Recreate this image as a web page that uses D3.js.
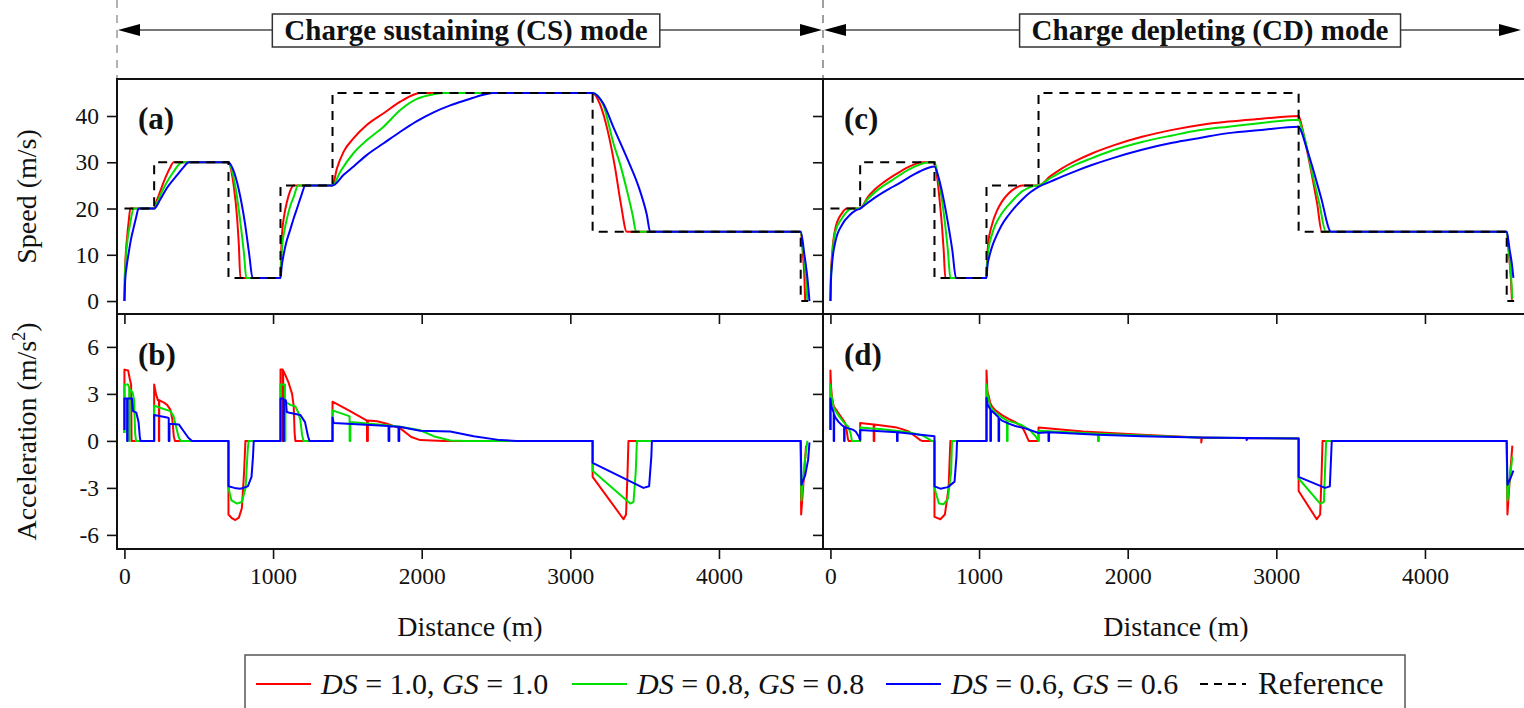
<!DOCTYPE html>
<meta charset="utf-8">
<style>
body { margin: 0; background: #fff; }
text { font-family: "Liberation Serif", "Times New Roman", serif; fill: #111; }
</style>
<svg width="1524" height="708"></svg>
<script src="https://cdnjs.cloudflare.com/ajax/libs/d3/7.8.5/d3.min.js"></script>
<script>

// ---- data (distance m, value) ----
const xTicks = [0, 1000, 2000, 3000, 4000];
const speedTicks = [0, 10, 20, 30, 40];
const accTicks = [-6, -3, 0, 3, 6];
const seriesNames = ["DS = 1.0, GS = 1.0", "DS = 0.8, GS = 0.8", "DS = 0.6, GS = 0.6"];

const refSpeed = [[0,20],[200,20],[200,30],[700,30],[700,5],[1050,5],[1050,25],[1400,25],[1400,45],[3150,45],[3150,15],[4550,15],[4550,0],[4600,0]];

// charge sustaining, speed
const csSpeed10 = [[0,0],[2,4.5],[7,9],[18,13.8],[28,17],[40,20],[200,20],[215,21.5],[242,23.8],[265,25.8],[287,27.5],[310,29],[330,30],[700,30],[720,28],[735,25],[758,18],[770,12],[780,5],[1050,5],[1054,10],[1060,14.3],[1075,18.5],[1094,21.5],[1115,23.8],[1138,25],[1400,25],[1430,28.7],[1475,32.3],[1542,35.2],[1632,38.1],[1744,40.6],[1856,43.1],[1945,44.6],[1990,45],[3150,45],[3200,42.5],[3250,37],[3300,29],[3340,21],[3380,15],[4550,15],[4565,10],[4575,5],[4580,0]];
const csSpeed08 = [[0,0],[3,5],[10,9.5],[22,13.5],[40,17],[62,20],[200,20],[220,21.3],[242,22.9],[287,25.8],[332,28],[360,29.3],[388,30],[700,30],[725,28],[750,24],[780,17],[805,10],[820,5],[1050,5],[1055,8.5],[1060,11.4],[1075,15],[1094,17.9],[1115,20.5],[1139,22.5],[1168,25],[1400,25],[1453,28],[1542,32],[1632,34.8],[1744,37.7],[1856,41.3],[1968,43.7],[2080,44.7],[2150,45],[3150,45],[3220,42.5],[3291,34],[3340,29],[3380,24],[3420,18.5],[3443,15],[4550,15],[4570,10],[4585,5],[4595,0]];
const csSpeed06 = [[0,0],[5,4.5],[15,7.5],[29,10.5],[45,13.5],[63,16],[80,18.3],[95,20],[200,20],[242,22],[287,24.5],[354,27.2],[400,29],[432,30],[700,30],[730,28.5],[770,24],[810,17],[840,10],[862,5],[1050,5],[1058,7.5],[1071,10],[1090,12.8],[1116,15.5],[1140,18],[1161,20],[1190,22.8],[1217,25],[1400,25],[1475,27.3],[1542,29.1],[1632,31.6],[1744,34.1],[1856,36.6],[1968,38.9],[2080,40.8],[2192,42.3],[2305,43.5],[2416,44.6],[2483,45],[3150,45],[3220,42.8],[3291,37.5],[3380,31],[3470,23.7],[3515,18.6],[3537,15],[4550,15],[4575,10],[4595,5],[4609,0]];

// charge depleting, speed
const cdSpeed10 = [[0,0],[3,5.5],[11,10],[33,15.7],[78,19],[112,20],[200,20],[250,22.4],[302,24.2],[360,25.7],[414,26.9],[470,28],[526,29],[570,29.6],[616,30],[700,30],[715,27.5],[728,24],[740,20],[751,16],[762,11],[773,5],[1050,5],[1054,9],[1062,12.5],[1087,16.5],[1120,19.5],[1154,21.5],[1200,23.3],[1244,24.4],[1289,25],[1400,25],[1480,27],[1558,28.7],[1650,30.3],[1759,31.9],[1900,33.6],[2096,35.5],[2300,37],[2477,38],[2678,38.8],[2900,39.4],[3150,40],[3170,38],[3194,34.5],[3239,27.3],[3275,21],[3306,15],[4550,15],[4565,10],[4578,5],[4585,0.3]];
const cdSpeed08 = [[0,0],[3,4.5],[11,9],[33,15],[78,17.9],[110,19.3],[144,20],[200,20],[250,22],[302,23.6],[360,25],[414,26.1],[470,27.3],[526,28.4],[600,29.5],[672,30],[700,30],[720,27.5],[745,23],[770,17],[790,11],[807,5],[1050,5],[1055,8.5],[1065,11.5],[1085,14.2],[1110,16.5],[1150,18.8],[1199,20.8],[1245,22.4],[1289,23.7],[1335,24.5],[1378,25],[1400,25],[1480,26.6],[1558,28],[1650,29.5],[1759,30.9],[1900,32.6],[2096,34.4],[2300,35.8],[2477,36.9],[2678,37.7],[2900,38.5],[3150,39.2],[3170,37.5],[3194,34.8],[3239,28],[3290,21],[3333,15],[4550,15],[4567,10],[4580,5],[4588,0.5]];
const cdSpeed06 = [[0,0],[3,4],[11,8],[33,12.8],[78,16.5],[130,18.6],[170,19.6],[200,20],[250,21.2],[302,22.4],[360,23.6],[414,24.6],[470,25.6],[526,26.7],[600,28],[700,29.1],[725,27],[755,23],[790,17],[820,11],[845,5],[1050,5],[1056,7.5],[1068,9.5],[1085,11.5],[1110,13.6],[1150,16.3],[1199,18.6],[1245,20.4],[1289,21.9],[1345,23.5],[1400,24.7],[1480,25.8],[1558,26.9],[1650,28.1],[1759,29.4],[1900,30.9],[2096,32.7],[2300,34.2],[2477,35.2],[2678,36.3],[2900,37],[3150,37.7],[3170,36.5],[3194,34.1],[3239,29.4],[3300,22.5],[3369,15],[4550,15],[4570,11],[4585,8],[4595,5]];

// charge sustaining, acceleration
const csAcc10 = [[0,0.5],[0,4.55],[25,4.5],[35,4.0],[45,3.6],[48,0],[200,0],[200,3.6],[212,3.0],[225,2.6],[232,2.6],[232,0],[234,0],[234,2.6],[265,2.45],[287,2.3],[309,2.0],[322,1.4],[332,0.3],[340,0],[700,0],[700,-4.7],[725,-4.95],[746,-5.05],[770,-4.9],[790,-4.3],[805,-2],[814,0],[1050,0],[1050,4.55],[1065,4.55],[1065,0],[1068,0],[1068,4.5],[1083,4.2],[1105,3.7],[1128,3.0],[1139,2.2],[1145,0.5],[1150,0],[1400,0],[1400,2.5],[1500,2.0],[1632,1.3],[1632,0],[1638,0],[1638,1.3],[1700,1.25],[1766,1.1],[1856,0.8],[1930,0.25],[1990,0.05],[2150,0],[3150,0],[3150,-2.3],[3358,-5.0],[3375,-4.7],[3385,-2],[3391,0],[4550,0],[4553,-4.7],[4570,-2.5],[4586,-0.3]];
const csAcc08 = [[0,0.5],[0,3.6],[25,3.6],[32,3.4],[32,0],[35,0],[35,3.3],[55,3.1],[65,2.6],[72,0.5],[78,0],[200,0],[200,2.25],[260,2.05],[309,1.9],[330,1.6],[350,0.8],[366,0.2],[380,0],[700,0],[700,-3.0],[720,-3.8],[758,-4.0],[790,-3.9],[815,-3],[830,-0.5],[836,0],[1050,0],[1050,3.6],[1080,3.6],[1080,0],[1083,0],[1083,2.5],[1116,2.3],[1150,2.2],[1170,1.8],[1184,1.3],[1195,0.4],[1205,0],[1400,0],[1400,1.95],[1508,1.6],[1515,1.55],[1515,0],[1520,0],[1520,1.2],[1766,1.0],[1856,0.9],[1990,0.68],[2080,0.3],[2192,0.02],[2300,0],[3150,0],[3150,-1.9],[3403,-4.0],[3425,-3.9],[3440,-2],[3448,0],[4550,0],[4555,-3.8],[4575,-1.5],[4595,0]];
const csAcc06 = [[0,0.7],[0,2.7],[18,2.7],[18,0],[21,0],[21,2.7],[51,2.7],[58,1.9],[80,1.8],[95,1.2],[103,0.3],[108,0],[200,0],[200,1.65],[287,1.5],[298,1.45],[298,0],[303,0],[303,1.1],[366,1.05],[400,0.6],[430,0.2],[455,0],[700,0],[700,-2.9],[740,-3.0],[780,-3.05],[830,-2.9],[855,-2.3],[865,-1],[870,0],[1050,0],[1050,2.7],[1070,2.7],[1070,0],[1073,0],[1073,2.6],[1086,2.6],[1092,1.85],[1110,1.8],[1184,1.65],[1215,1.2],[1235,0.3],[1245,0],[1400,0],[1400,1.5],[1408,1.15],[1777,0.95],[1777,0],[1782,0],[1782,0.94],[1844,0.9],[1844,0],[1849,0],[1849,0.9],[1990,0.65],[2192,0.6],[2350,0.3],[2528,0.05],[2640,0],[3150,0],[3150,-1.4],[3492,-3.0],[3530,-2.9],[3545,-1],[3549,0],[4550,0],[4555,-2.8],[4580,-2.2],[4600,-1.2],[4609,-0.1]];

// charge depleting, acceleration
const cdAcc10 = [[0,0.7],[0,4.5],[4,3.5],[10,2.8],[22,2.2],[56,1.75],[89,1.3],[100,1.1],[110,0.6],[118,0.1],[123,0],[200,0],[200,1.15],[291,1.05],[291,0],[295,0],[295,1.05],[448,0.85],[482,0.75],[527,0.6],[570,0.3],[605,0.05],[616,0],[700,0],[700,-4.85],[740,-5.0],[770,-4.7],[795,-3],[807,0],[1050,0],[1050,4.5],[1056,3.2],[1076,2.4],[1087,2.2],[1110,1.95],[1154,1.65],[1199,1.4],[1244,1.2],[1289,0.9],[1311,0.5],[1334,0],[1400,0],[1400,0.85],[1700,0.6],[2096,0.4],[2477,0.22],[2495,0.2],[2495,-0.1],[2500,0.2],[2678,0.18],[3150,0.15],[3150,-3.2],[3272,-5.0],[3295,-4.7],[3305,-2],[3311,0],[4550,0],[4555,-4.7],[4570,-2.5],[4588,-0.3]];
const cdAcc08 = [[0,0.7],[0,3.6],[5,3.0],[22,2.1],[56,1.6],[89,1.2],[120,0.9],[135,0.5],[145,0],[200,0],[200,0.85],[350,0.75],[527,0.55],[620,0.35],[665,0.1],[680,0],[700,0],[700,-3.0],[730,-4.0],[760,-4.05],[790,-3.7],[812,-2],[818,0],[1050,0],[1050,3.6],[1058,2.9],[1076,2.17],[1110,1.8],[1154,1.5],[1188,1.3],[1188,0],[1192,0],[1192,1.28],[1244,1.15],[1289,1.0],[1340,0.7],[1380,0.3],[1400,0],[1400,0.65],[1800,0.45],[1800,0],[1806,0],[1806,0.45],[2096,0.35],[2477,0.22],[3150,0.15],[3150,-2.4],[3295,-4.0],[3320,-3.9],[3335,0],[4550,0],[4555,-3.8],[4588,-1.0]];
const cdAcc06 = [[0,0.7],[0,2.7],[6,2.2],[22,1.8],[22,0],[25,0],[25,1.7],[33,1.5],[56,1.2],[78,1.0],[92,0.9],[92,0],[95,0],[95,0.88],[150,0.72],[170,0.6],[190,0.3],[200,0.05],[200,0.7],[448,0.55],[448,0],[452,0],[452,0.55],[700,0.3],[700,-2.9],[740,-3.05],[790,-2.95],[835,-2.6],[848,-1],[852,0],[1050,0],[1050,2.75],[1058,2.3],[1076,2.0],[1076,0],[1080,0],[1080,1.95],[1110,1.7],[1131,1.5],[1131,0],[1135,0],[1135,1.45],[1154,1.3],[1199,1.1],[1244,0.95],[1311,0.8],[1400,0.5],[1467,0.55],[1467,0],[1471,0],[1471,0.55],[1800,0.4],[2096,0.3],[2477,0.22],[2800,0.18],[2800,0.05],[2805,0.18],[3150,0.15],[3150,-2.3],[3328,-3.0],[3360,-2.9],[3373,0],[4550,0],[4555,-2.8],[4575,-2.4],[4595,-1.9]];

const colors = ["#ff0000", "#00e000", "#0000ff"];

// ---- layout ----
const svg = d3.select("svg");
const serif = "'Liberation Serif', 'Times New Roman', serif";
const speedTop = 79, mid = 314, accBottom = 549;

const panels = [
  {x0: 117, x1: 823, speed: [csSpeed10, csSpeed08, csSpeed06], acc: [csAcc10, csAcc08, csAcc06],
   tags: ["(a)", "(b)"], title: "Charge sustaining (CS) mode", boxCx: 466, arrowEnd: 823, yLabels: true},
  {x0: 823, x1: 1529, speed: [cdSpeed10, cdSpeed08, cdSpeed06], acc: [cdAcc10, cdAcc08, cdAcc06],
   tags: ["(c)", "(d)"], title: "Charge depleting (CD) mode", boxCx: 1210, arrowEnd: 1522, yLabels: false}
];

const ySpeed = d3.scaleLinear().domain([-2.8, 48]).range([mid, speedTop]);
const yAcc = d3.scaleLinear().domain([-6.9, 8.1]).range([accBottom, mid]);

const defs = svg.append("defs");

function styleAxis(g, size) {
  g.attr("font-family", serif).attr("font-size", size);
  g.select(".domain").remove();
  g.selectAll(".tick line").attr("stroke", "#111").attr("stroke-width", 1.6);
  g.selectAll(".tick text").attr("fill", "#111");
}

function arrowHead(tipX, dir) {
  // dir = -1 points left, +1 points right
  svg.append("path")
    .attr("d", "M" + tipX + ",30L" + (tipX - dir * 22) + ",24L" + (tipX - dir * 22) + ",36Z")
    .attr("fill", "#000");
}

panels.forEach(function(p, pi) {
  var x = d3.scaleLinear().domain([-50, 4700]).range([p.x0, p.x1]);

  // banner
  [p.x0, p.x1].forEach(function(vx) {
    if (vx > 1524) return;
    svg.append("line").attr("x1", vx).attr("x2", vx).attr("y1", 0).attr("y2", speedTop)
      .attr("stroke", "#999").attr("stroke-width", 1.5).attr("stroke-dasharray", "8,7");
  });
  svg.append("line")
      .attr("x1", p.x0 + 10).attr("x2", p.arrowEnd - 10).attr("y1", 30).attr("y2", 30)
      .attr("stroke", "#777").attr("stroke-width", 2);
  arrowHead(p.x0 + 1, -1);
  arrowHead(p.arrowEnd - 1, 1);
  var bg = svg.append("g");
  var br = bg.append("rect");
  var bt = bg.append("text").attr("x", p.boxCx).attr("y", 40)
      .attr("text-anchor", "middle").attr("font-weight", "bold").attr("font-size", 29)
      .text(p.title);
  var bb = bt.node().getBBox();
  br.attr("x", bb.x - 12).attr("y", 14).attr("width", bb.width + 24).attr("height", 33)
      .attr("fill", "#fff").attr("stroke", "#333").attr("stroke-width", 1.5);

  // clip paths
  var cid = "clip" + pi;
  defs.append("clipPath").attr("id", cid + "s").append("rect")
      .attr("x", p.x0).attr("y", speedTop).attr("width", p.x1 - p.x0).attr("height", mid - speedTop);
  defs.append("clipPath").attr("id", cid + "a").append("rect")
      .attr("x", p.x0).attr("y", mid).attr("width", p.x1 - p.x0).attr("height", accBottom - mid);

  var speedLine = d3.line().x(function(d) { return x(d[0]); }).y(function(d) { return ySpeed(d[1]); })
      .curve(d3.curveMonotoneX);
  var stepLine = d3.line().x(function(d) { return x(d[0]); }).y(function(d) { return ySpeed(d[1]); });
  var accLine = d3.line().x(function(d) { return x(d[0]); }).y(function(d) { return yAcc(d[1]); });

  var gs = svg.append("g").attr("clip-path", "url(#" + cid + "s)");
  p.speed.forEach(function(s, i) {
    gs.append("path").datum(s).attr("d", speedLine)
      .attr("fill", "none").attr("stroke", colors[i]).attr("stroke-width", 2);
  });
  gs.append("path").datum(refSpeed).attr("d", stepLine)
      .attr("fill", "none").attr("stroke", "#000").attr("stroke-width", 2)
      .attr("stroke-dasharray", "9,7");

  var ga = svg.append("g").attr("clip-path", "url(#" + cid + "a)");
  p.acc.forEach(function(s, i) {
    ga.append("path").datum(s).attr("d", accLine)
      .attr("fill", "none").attr("stroke", colors[i]).attr("stroke-width", 2)
      .attr("stroke-linejoin", "round");
  });

  // axes
  if (p.yLabels) {
    svg.append("g").attr("transform", "translate(" + p.x0 + ",0)")
      .call(d3.axisLeft(ySpeed).tickValues(speedTicks).tickSize(10).tickPadding(8).tickFormat(String))
      .call(styleAxis, 23.5);
    svg.append("g").attr("transform", "translate(" + p.x0 + ",0)")
      .call(d3.axisLeft(yAcc).tickValues(accTicks).tickSize(10).tickPadding(8).tickFormat(String))
      .call(styleAxis, 23.5);
    // inward ticks on the shared right border
    svg.append("g").attr("transform", "translate(" + p.x1 + ",0)")
      .call(d3.axisLeft(ySpeed).tickValues(speedTicks).tickSize(10).tickFormat(""))
      .call(styleAxis, 10);
    svg.append("g").attr("transform", "translate(" + p.x1 + ",0)")
      .call(d3.axisLeft(yAcc).tickValues(accTicks).tickSize(10).tickFormat(""))
      .call(styleAxis, 10);
  }
  svg.append("g").attr("transform", "translate(0," + accBottom + ")")
    .call(d3.axisBottom(x).tickValues(xTicks).tickSize(10).tickPadding(8).tickFormat(String))
    .call(styleAxis, 23.5);
  svg.append("g").attr("transform", "translate(0," + mid + ")")
    .call(d3.axisBottom(x).tickValues(xTicks).tickSize(10).tickFormat(""))
    .call(styleAxis, 10);

  // frames
  [[speedTop, mid], [mid, accBottom]].forEach(function(r) {
    svg.append("rect").attr("x", p.x0).attr("y", r[0]).attr("width", p.x1 - p.x0).attr("height", r[1] - r[0])
      .attr("fill", "none").attr("stroke", "#111").attr("stroke-width", 2);
  });

  // panel tags
  svg.append("text").attr("x", p.x0 + 21).attr("y", 129).attr("font-weight", "bold").attr("font-size", 31).text(p.tags[0]);
  svg.append("text").attr("x", p.x0 + 21).attr("y", 365).attr("font-weight", "bold").attr("font-size", 31).text(p.tags[1]);

  // x title
  svg.append("text").attr("x", (p.x0 + p.x1) / 2).attr("y", 636).attr("text-anchor", "middle")
      .attr("font-size", 28).text("Distance (m)");
});

// y titles
svg.append("text").attr("transform", "translate(36," + (speedTop + mid) / 2 + ") rotate(-90)")
    .attr("text-anchor", "middle").attr("font-size", 28).text("Speed (m/s)");
var at = svg.append("text").attr("transform", "translate(36," + (mid + accBottom) / 2 + ") rotate(-90)")
    .attr("text-anchor", "middle").attr("font-size", 28);
at.append("tspan").text("Acceleration (m/s");
at.append("tspan").attr("font-size", 18).attr("dy", -11).text("2");
at.append("tspan").attr("dy", 11).text(")");

// legend
var lg = svg.append("g");
lg.append("rect").attr("x", 245).attr("y", 655).attr("width", 1160).attr("height", 70)
    .attr("fill", "#fff").attr("stroke", "#555").attr("stroke-width", 1.5);
var legendX = [256, 572, 886, 1200];
seriesNames.forEach(function(name, i) {
  lg.append("line").attr("x1", legendX[i]).attr("x2", legendX[i] + 55).attr("y1", 684).attr("y2", 684)
    .attr("stroke", colors[i]).attr("stroke-width", 2);
  var parts = name.split(", ");
  var t = lg.append("text").attr("x", legendX[i] + 65).attr("y", 694).attr("font-size", 30);
  t.append("tspan").attr("font-style", "italic").text("DS");
  t.append("tspan").text(parts[0].slice(2) + ", ");
  t.append("tspan").attr("font-style", "italic").text("GS");
  t.append("tspan").text(parts[1].slice(2));
});
lg.append("line").attr("x1", legendX[3]).attr("x2", legendX[3] + 46).attr("y1", 684).attr("y2", 684)
    .attr("stroke", "#000").attr("stroke-width", 2).attr("stroke-dasharray", "8,6");
lg.append("text").attr("x", legendX[3] + 58).attr("y", 694).attr("font-size", 31).text("Reference");

</script>
